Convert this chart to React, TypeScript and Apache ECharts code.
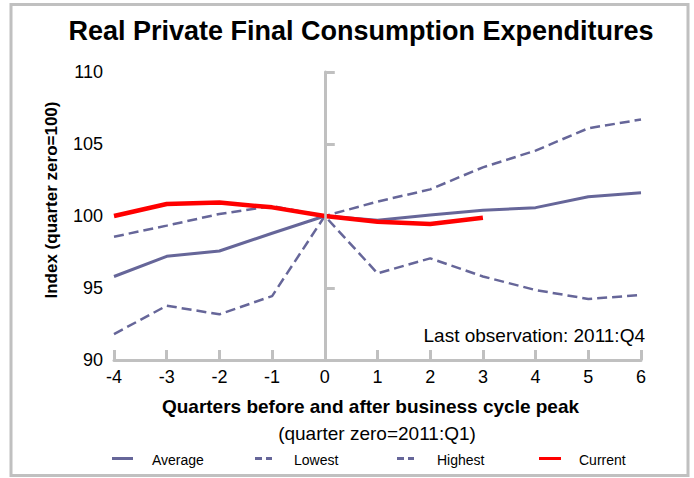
import React, { useEffect, useRef } from "react";
import * as echarts from "echarts";

const quarters = [-4, -3, -2, -1, 0, 1, 2, 3, 4, 5, 6];
const averageValues = [95.8, 97.2, 97.57, 98.8, 100, 99.7, 100.07, 100.4, 100.58, 101.34, 101.62];
const lowestValues = [91.8, 93.77, 93.17, 94.44, 100, 96.02, 97.06, 95.8, 94.86, 94.24, 94.51];
const highestValues = [98.56, 99.33, 100.14, 100.69, 100, 101.0, 101.85, 103.38, 104.54, 106.09, 106.7];
const currentQuarters = [-4, -3, -2, -1, 0, 1, 2, 3];
const currentValues = [100.0, 100.83, 100.93, 100.6, 100, 99.6, 99.44, 99.88];
const seriesNames = ["Average", "Lowest", "Highest", "Current"];
const titleText = "Real Private Final Consumption Expenditures";
const yName = "Index (quarter zero=100)";
const xName = "Quarters before and after business cycle peak";
const subText = "(quarter zero=2011:Q1)";
const noteText = "Last observation: 2011:Q4";

const PURPLE = "#666699";
const RED = "#ff0000";
const GRAY = "#c0c0c0";
const FONT = "'Liberation Sans', Arial, sans-serif";

function pairs(xs: number[], ys: number[]) {
  return xs.map((x, i) => [x, ys[i]]);
}

export default function App() {
  const ref = useRef<HTMLDivElement>(null);
  useEffect(() => {
    if (!ref.current) return;
    const chart = echarts.init(ref.current, null, { renderer: "svg" });
    const legendX = [112, 255, 397, 539];
    const legendTextX = [152, 294, 437, 579];
    const legendStyles = [
      { stroke: PURPLE, lineWidth: 3, lineDash: null as any, w: 21 },
      { stroke: PURPLE, lineWidth: 3, lineDash: [7, 4], w: 17 },
      { stroke: PURPLE, lineWidth: 3, lineDash: [7, 4], w: 17 },
      { stroke: RED, lineWidth: 3, lineDash: null as any, w: 22 },
    ];
    const legendGraphics: any[] = [];
    seriesNames.forEach((n, i) => {
      const s = legendStyles[i];
      legendGraphics.push({
        type: "line",
        shape: { x1: legendX[i], y1: 458.5, x2: legendX[i] + s.w, y2: 458.5 },
        style: { stroke: s.stroke, lineWidth: s.lineWidth, lineDash: s.lineDash || undefined },
      });
      legendGraphics.push({
        type: "text",
        x: legendTextX[i],
        y: 460,
        style: { text: n, fill: "#000", font: `14px ${FONT}`, textAlign: "left", textVerticalAlign: "middle" },
      });
    });

    chart.setOption({
      animation: false,
      backgroundColor: "#fff",
      title: {
        text: titleText,
        left: 361,
        top: 17,
        textAlign: "center",
        padding: 0,
        textStyle: { fontFamily: FONT, fontSize: 27, fontWeight: "bold", color: "#000" },
      },
      grid: { left: 114, right: 53, top: 72, bottom: 118 },
      xAxis: {
        type: "value",
        min: -4,
        max: 6,
        interval: 1,
        name: xName,
        nameLocation: "middle",
        nameGap: 37,
        nameTextStyle: { fontFamily: FONT, fontSize: 19, fontWeight: "bold", color: "#000", padding: [0, 14, 0, 0] },
        axisLine: { show: true, onZero: false, lineStyle: { color: GRAY, width: 3 } },
        axisTick: { show: true, inside: true, length: 10, lineStyle: { color: GRAY, width: 3 } },
        axisLabel: { fontFamily: FONT, fontSize: 18, color: "#000", margin: 8 },
        splitLine: { show: false },
      },
      yAxis: {
        type: "value",
        min: 90,
        max: 110,
        interval: 5,
        axisLine: { show: true, lineStyle: { color: GRAY, width: 3 } },
        axisTick: { show: true, inside: true, length: 10, lineStyle: { color: GRAY, width: 3 } },
        axisLabel: { fontFamily: FONT, fontSize: 18, color: "#000", margin: 11 },
        splitLine: { show: false },
      },
      series: [
        {
          type: "line",
          name: "zero",
          data: [],
          z: 1,
          silent: true,
          markLine: {
            silent: true,
            symbol: "none",
            label: { show: false },
            lineStyle: { color: GRAY, width: 2.5, type: "solid" },
            data: [{ xAxis: quarters[4] }],
          },
        },
        {
          type: "line",
          name: seriesNames[0],
          data: pairs(quarters, averageValues),
          symbol: "none",
          z: 3,
          lineStyle: { color: PURPLE, width: 3 },
          itemStyle: { color: PURPLE },
        },
        {
          type: "line",
          name: seriesNames[1],
          data: pairs(quarters, lowestValues),
          symbol: "none",
          z: 3,
          lineStyle: { color: PURPLE, width: 2.5, type: [10, 5] },
          itemStyle: { color: PURPLE },
        },
        {
          type: "line",
          name: seriesNames[2],
          data: pairs(quarters, highestValues),
          symbol: "none",
          z: 3,
          lineStyle: { color: PURPLE, width: 2.5, type: [10, 5] },
          itemStyle: { color: PURPLE },
        },
        {
          type: "line",
          name: seriesNames[3],
          data: pairs(currentQuarters, currentValues),
          symbol: "none",
          z: 4,
          lineStyle: { color: RED, width: 4.5 },
          itemStyle: { color: RED },
        },
      ],
      graphic: [
        {
          type: "rect",
          shape: { x: 11, y: 4.5, width: 677, height: 471 },
          style: { fill: "none", stroke: GRAY, lineWidth: 3 },
          z: -1,
        },
        {
          type: "text",
          x: 51,
          y: 200,
          rotation: Math.PI / 2,
          style: { text: yName, fill: "#000", font: `bold 17px ${FONT}`, textAlign: "center", textVerticalAlign: "middle" },
        },
        {
          type: "text",
          x: 377,
          y: 433,
          style: { text: subText, fill: "#000", font: `19px ${FONT}`, textAlign: "center", textVerticalAlign: "middle" },
        },
        {
          type: "text",
          x: 645,
          y: 335,
          style: { text: noteText, fill: "#000", font: `19px ${FONT}`, textAlign: "right", textVerticalAlign: "middle" },
        },
        ...legendGraphics,
      ],
    });
    return () => chart.dispose();
  }, []);
  return (
    <div
      ref={ref}
      style={{ position: "absolute", left: 0, top: 0, width: 694, height: 478 }}
    />
  );
}
